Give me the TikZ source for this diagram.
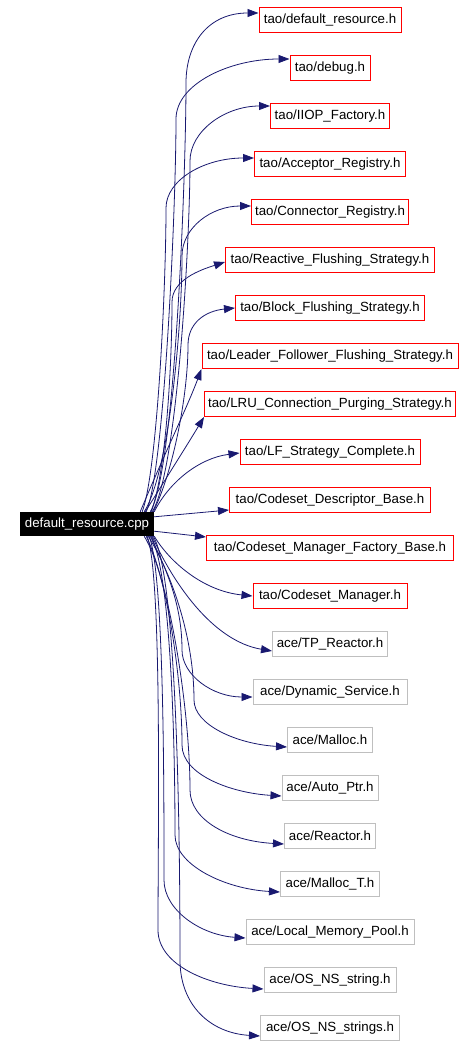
\documentclass[tikz,border=0pt]{standalone}
\usepackage{fontspec}
\setmainfont{Liberation Sans}
\usetikzlibrary{arrows.meta}
\definecolor{edgeblue}{RGB}{25,25,112}
\definecolor{boxgray}{RGB}{191,191,191}
\begin{document}
\begin{tikzpicture}[x=1pt,y=-1pt,
  file/.style={draw, line width=1pt, minimum height=25pt, inner sep=0pt,
    font=\fontsize{13.3}{16}\selectfont, text=black, fill=white},
  taof/.style={file, draw=red},
  acef/.style={file, draw=boxgray},
  rootbox/.style={fill=black, text=white, minimum width=134pt, minimum height=24pt,
    inner sep=0pt, font=\fontsize{13.3}{16}\selectfont},
  edge/.style={draw=edgeblue, line width=0.8pt, -{Triangle[length=11pt,width=8pt]}}
]
\useasboundingbox (0,0) rectangle (475,1046);
\fill[white] (0,0) rectangle (475,1046);

\node[rootbox] (root) at (87,524) {default\_resource.cpp};

\node[taof, minimum width=142pt] (t1) at (330,20) {tao/default\_resource.h};
\node[taof, minimum width=80pt] (t2) at (330,68) {tao/debug.h};
\node[taof, minimum width=119pt] (t3) at (330,116) {tao/IIOP\_Factory.h};
\node[taof, minimum width=151pt] (t4) at (330,164) {tao/Acceptor\_Registry.h};
\node[taof, minimum width=157pt] (t5) at (330,212) {tao/Connector\_Registry.h};
\node[taof, minimum width=209pt] (t6) at (330,260) {tao/Reactive\_Flushing\_Strategy.h};
\node[taof, minimum width=189pt] (t7) at (330,308) {tao/Block\_Flushing\_Strategy.h};
\node[taof, minimum width=256pt] (t8) at (330,356) {tao/Leader\_Follower\_Flushing\_Strategy.h};
\node[taof, minimum width=251pt] (t9) at (330,404) {tao/LRU\_Connection\_Purging\_Strategy.h};
\node[taof, minimum width=180pt] (t10) at (330,452) {tao/LF\_Strategy\_Complete.h};
\node[taof, minimum width=201pt] (t11) at (330,500) {tao/Codeset\_Descriptor\_Base.h};
\node[taof, minimum width=247pt] (t12) at (330,548) {tao/Codeset\_Manager\_Factory\_Base.h};
\node[taof, minimum width=154pt] (t13) at (330,596) {tao/Codeset\_Manager.h};
\node[acef, minimum width=115pt] (t14) at (330,644) {ace/TP\_Reactor.h};
\node[acef, minimum width=154pt] (t15) at (330,692) {ace/Dynamic\_Service.h};
\node[acef, minimum width=85pt] (t16) at (330,740) {ace/Malloc.h};
\node[acef, minimum width=96pt] (t17) at (330,788) {ace/Auto\_Ptr.h};
\node[acef, minimum width=91pt] (t18) at (330,836) {ace/Reactor.h};
\node[acef, minimum width=99pt] (t19) at (330,884) {ace/Malloc\_T.h};
\node[acef, minimum width=168pt] (t20) at (330,932) {ace/Local\_Memory\_Pool.h};
\node[acef, minimum width=132pt] (t21) at (330,980) {ace/OS\_NS\_string.h};
\node[acef, minimum width=139pt] (t22) at (330,1028) {ace/OS\_NS\_strings.h};

% upper edges
\draw[edge] ([xshift=-4pt]root.north east) .. controls +(25,-40) and +(0,90) .. (186,83)
  .. controls +(0,-40) and +(-50,0) .. ([yshift=7pt]t1.west);
\draw[edge] ([xshift=-8pt]root.north east) .. controls +(18,-40) and +(0,90) .. (176,119)
  .. controls +(0,-35) and +(-60,0) .. ([yshift=9pt]t2.west);
\draw[edge] ([xshift=-2pt]root.north east) .. controls +(25,-40) and +(0,80) .. (190,161)
  .. controls +(0,-30) and +(-45,0) .. ([yshift=10pt]t3.west);
\draw[edge] ([xshift=-12pt]root.north east) .. controls +(15,-40) and +(0,80) .. (166,208)
  .. controls +(0,-28) and +(-50,0) .. ([yshift=6pt]t4.west);
\draw[edge] ([xshift=-10pt]root.north east) .. controls +(25,-40) and +(0,70) .. (182,256)
  .. controls +(0,-28) and +(-40,0) .. ([yshift=6pt]t5.west);
\draw[edge] ([xshift=-3pt]root.north east) .. controls +(15,-40) and +(0,60) .. (172,302)
  .. controls +(0,-22) and +(-25,8) .. ([yshift=-2pt]t6.west);
\draw[edge] ([xshift=-1pt]root.north east) .. controls +(20,-40) and +(0,50) .. (188,345)
  .. controls +(0,-22) and +(-30,3) .. (t7.west);
\draw[edge] ([xshift=-14pt]root.north east) .. controls +(25,-60) and +(-15,40) .. (t8.south west);
\draw[edge] ([xshift=-9pt]root.north east) .. controls +(25,-40) and +(-15,25) .. (t9.south west);
\draw[edge] (root.north east) .. controls +(15,-30) and +(-40,5) .. ([yshift=-1pt]t10.west);
\draw[edge] ([yshift=-5pt]root.north east) -- ([yshift=-10pt]t11.west);
\draw[edge] ([yshift=5pt]root.south east) -- ([yshift=11pt]t12.west);

% lower edges
\draw[edge] (root.south east) .. controls +(15,25) and +(-50,-5) .. (t13.west);
\draw[edge] ([xshift=-2pt]root.south east) .. controls +(20,45) and +(-60,-10) .. ([yshift=-7pt]t14.west);
\draw[edge] ([xshift=-4pt]root.south east) .. controls +(20,40) and +(0,-40) .. (182,650)
  .. controls +(0,25) and +(-40,0) .. ([yshift=-5pt]t15.west);
\draw[edge] ([xshift=-6pt]root.south east) .. controls +(25,40) and +(0,-60) .. (194,700)
  .. controls +(0,25) and +(-50,-3) .. ([yshift=-7pt]t16.west);
\draw[edge] ([xshift=-8pt]root.south east) .. controls +(20,40) and +(0,-70) .. (182,745)
  .. controls +(0,30) and +(-50,-3) .. ([yshift=-8pt]t17.west);
\draw[edge] ([xshift=-10pt]root.south east) .. controls +(25,40) and +(0,-80) .. (190,790)
  .. controls +(0,30) and +(-55,-3) .. ([yshift=-8pt]t18.west);
\draw[edge] ([xshift=-3pt]root.south east) .. controls +(20,40) and +(0,-90) .. (175,835)
  .. controls +(0,30) and +(-55,-3) .. ([yshift=-8pt]t19.west);
\draw[edge] ([xshift=-5pt]root.south east) .. controls +(15,40) and +(0,-90) .. (164,880)
  .. controls +(0,30) and +(-45,-3) .. ([yshift=-6pt]t20.west);
\draw[edge] ([xshift=-7pt]root.south east) .. controls +(15,40) and +(0,-100) .. (158,930)
  .. controls +(0,35) and +(-55,-3) .. ([yshift=-9pt]t21.west);
\draw[edge] ([xshift=-1pt]root.south east) .. controls +(25,40) and +(0,-100) .. (180,960)
  .. controls +(0,45) and +(-50,-3) .. ([yshift=-8pt]t22.west);
\end{tikzpicture}
\end{document}
